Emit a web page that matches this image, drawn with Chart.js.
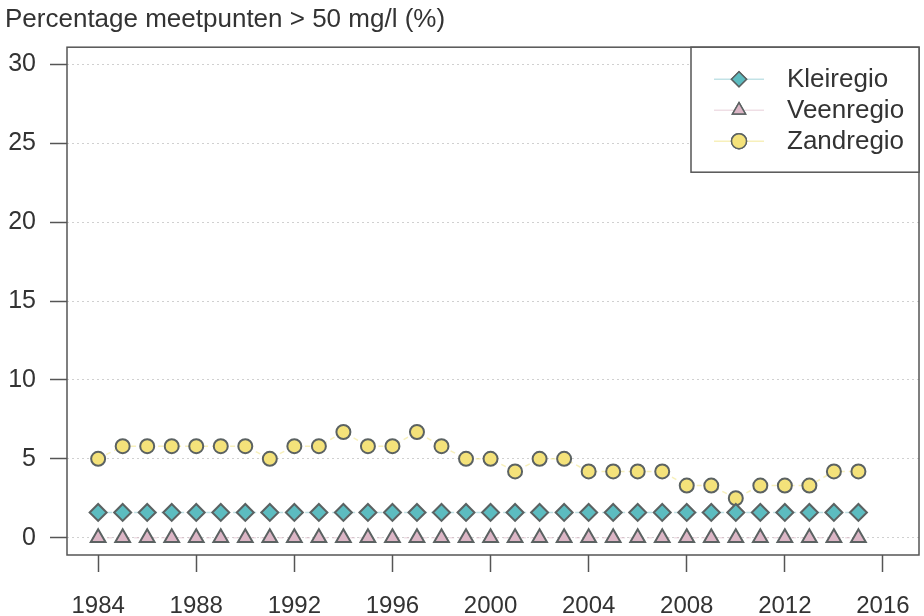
<!DOCTYPE html>
<html>
<head>
<meta charset="utf-8">
<script src="https://cdn.jsdelivr.net/npm/chart.js@4.4.0/dist/chart.umd.min.js"></script>
<style>
  html, body { margin: 0; padding: 0; background: #fff; }
  #wrap { width: 924px; height: 616px; }
</style>
</head>
<body>
<div id="wrap"><canvas id="chart" width="924" height="616"></canvas></div>
<script>
const years = [1984, 1985, 1986, 1987, 1988, 1989, 1990, 1991, 1992, 1993, 1994, 1995, 1996, 1997, 1998, 1999,
               2000, 2001, 2002, 2003, 2004, 2005, 2006, 2007, 2008, 2009, 2010, 2011, 2012, 2013, 2014, 2015];
const kleiregio = [1.6, 1.6, 1.6, 1.6, 1.6, 1.6, 1.6, 1.6, 1.6, 1.6, 1.6, 1.6, 1.6, 1.6, 1.6, 1.6,
                   1.6, 1.6, 1.6, 1.6, 1.6, 1.6, 1.6, 1.6, 1.6, 1.6, 1.6, 1.6, 1.6, 1.6, 1.6, 1.6];
const veenregio = [0, 0, 0, 0, 0, 0, 0, 0, 0, 0, 0, 0, 0, 0, 0, 0,
                   0, 0, 0, 0, 0, 0, 0, 0, 0, 0, 0, 0, 0, 0, 0, 0];
const zandregio = [5.0, 5.8, 5.8, 5.8, 5.8, 5.8, 5.8, 5.0, 5.8, 5.8, 6.7, 5.8, 5.8, 6.7, 5.8, 5.0,
                   5.0, 4.2, 5.0, 5.0, 4.2, 4.2, 4.2, 4.2, 3.3, 3.3, 2.5, 3.3, 3.3, 3.3, 4.2, 4.2];
const xTicks = [1984, 1988, 1992, 1996, 2000, 2004, 2008, 2012, 2016];
const yTicks = [0, 5, 10, 15, 20, 25, 30];

const FONT = '"Liberation Sans", Arial, sans-serif';
const EDGE = '#5b6262';
const TEXT = '#333';

function toPoints(values) {
    return years.map((y, i) => ({ x: y, y: values[i] }));
}

function series(label, values, fill, line, shape) {
    return {
        label: label,
        data: toPoints(values),
        showLine: true,
        borderColor: line,
        borderWidth: 1.5,
        borderDash: [5, 4],
        pointStyle: shape,
        pointRadius: shape === 'circle' ? 7 : 8.5,
        pointBackgroundColor: fill,
        pointBorderColor: EDGE,
        pointBorderWidth: 2
    };
}

// box around the plot plus the legend in the top right corner
const frameAndLegend = {
    id: 'frameAndLegend',
    afterDraw(chart) {
        const { ctx, chartArea: a } = chart;
        ctx.save();
        ctx.strokeStyle = '#555';
        ctx.lineWidth = 1.5;
        ctx.strokeRect(a.left, a.top, a.right - a.left, a.bottom - a.top);

        const bw = 228, bh = 125;
        const bx = a.right - bw, by = a.top;
        ctx.fillStyle = '#fff';
        ctx.fillRect(bx, by, bw, bh);
        ctx.strokeRect(bx, by, bw, bh);

        ctx.font = '26px ' + FONT;
        ctx.textBaseline = 'middle';
        chart.data.datasets.forEach((ds, i) => {
            const cy = by + 32 + i * 31;
            ctx.strokeStyle = ds.borderColor;
            ctx.lineWidth = 1.5;
            ctx.beginPath();
            ctx.moveTo(bx + 23, cy);
            ctx.lineTo(bx + 73, cy);
            ctx.stroke();
            ctx.fillStyle = ds.pointBackgroundColor;
            ctx.strokeStyle = EDGE;
            ctx.lineWidth = 1.5;
            Chart.helpers.drawPoint(ctx, { pointStyle: ds.pointStyle, radius: 7.5, borderWidth: 1.5 }, bx + 48, cy);
            ctx.fill();
            ctx.stroke();
            ctx.fillStyle = TEXT;
            ctx.textAlign = 'left';
            ctx.fillText(ds.label, bx + 96, cy + 1);
        });
        ctx.restore();
    }
};

new Chart(document.getElementById('chart'), {
    type: 'scatter',
    data: {
        datasets: [
            series('Kleiregio', kleiregio, '#5cbcc0', 'rgba(120,190,200,0.45)', 'rectRot'),
            series('Veenregio', veenregio, '#dcb6c6', 'rgba(220,182,198,0.45)', 'triangle'),
            series('Zandregio', zandregio, '#f4e27a', 'rgba(240,225,120,0.5)', 'circle')
        ]
    },
    options: {
        responsive: false,
        animation: false,
        layout: { autoPadding: false, padding: { left: 5, right: 5, top: 0, bottom: 0 } },
        plugins: {
            legend: { display: false },
            tooltip: { enabled: false },
            title: {
                display: true,
                text: 'Percentage meetpunten > 50 mg/l (%)',
                align: 'start',
                color: TEXT,
                font: { family: FONT, size: 26, weight: 'normal' },
                padding: { top: 4, bottom: 12 }
            }
        },
        scales: {
            x: {
                type: 'linear',
                min: 1982.73,
                max: 2017.47,
                afterBuildTicks: axis => { axis.ticks = xTicks.map(v => ({ value: v })); },
                afterFit: axis => {
                    axis.height = 61;
                    axis.paddingLeft = 0;
                    axis.paddingRight = 0;
                },
                border: { display: false },
                grid: { drawOnChartArea: false, drawTicks: true, tickLength: 17, tickColor: '#555', tickWidth: 1.5 },
                ticks: {
                    color: TEXT,
                    padding: 20,
                    maxRotation: 0,
                    autoSkip: false,
                    font: { family: FONT, size: 24 },
                    callback: v => String(v)
                }
            },
            y: {
                type: 'linear',
                min: -1.1,
                max: 31.1,
                afterBuildTicks: axis => { axis.ticks = yTicks.map(v => ({ value: v })); },
                afterFit: axis => {
                    axis.width = 62;
                    axis.paddingTop = 0;
                    axis.paddingBottom = 0;
                },
                border: { display: false, dash: [2, 3] },
                grid: { color: '#d0d0d0', lineWidth: 1, drawTicks: true, tickLength: 17, tickColor: '#555', tickWidth: 1.5 },
                ticks: {
                    color: TEXT,
                    padding: 14,
                    autoSkip: false,
                    font: { family: FONT, size: 25 }
                }
            }
        }
    },
    plugins: [frameAndLegend]
});
</script>
</body>
</html>
